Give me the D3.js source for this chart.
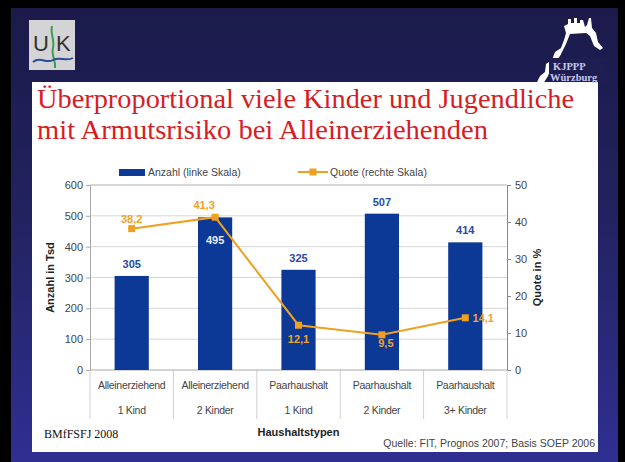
<!DOCTYPE html>
<html><head><meta charset="utf-8">
<script src="https://cdn.jsdelivr.net/npm/d3@7"></script>
<style>html,body{margin:0;padding:0;background:#000;}svg{display:block;}</style>
</head><body>
<script>
const categoryLine1 = ["Alleinerziehend","Alleinerziehend","Paarhaushalt","Paarhaushalt","Paarhaushalt"];
const categoryLine2 = ["1 Kind","2 Kinder","1 Kind","2 Kinder","3+ Kinder"];
const anzahl = [305, 495, 325, 507, 414];
const quote = [38.2, 41.3, 12.1, 9.5, 14.1];
const leftTicks = [0, 100, 200, 300, 400, 500, 600];
const rightTicks = [0, 10, 20, 30, 40, 50];
const titleLines = ["Überproportional viele Kinder und Jugendliche", "mit Armutsrisiko bei Alleinerziehenden"];

(function(){
const W = 625, H = 462;
const svg = d3.select("body").append("svg").attr("width", W).attr("height", H);
const defs = svg.append("defs");
const grad = defs.append("linearGradient").attr("id","bg").attr("x1",0).attr("y1",0).attr("x2",0).attr("y2",1);
grad.append("stop").attr("offset","0%").attr("stop-color","#1b1a4a");
grad.append("stop").attr("offset","45%").attr("stop-color","#222260");
grad.append("stop").attr("offset","100%").attr("stop-color","#2f2f92");

svg.append("rect").attr("width",W).attr("height",H).attr("fill","#000");
svg.append("rect").attr("x",11).attr("y",8).attr("width",607).attr("height",H-8).attr("fill","url(#bg)");

// UK logo
const lg = svg.append("g");
lg.append("rect").attr("x",29).attr("y",20).attr("width",46).attr("height",50).attr("fill","#d4d4d6");
lg.append("text").attr("x",33).attr("y",51).attr("font-family","Liberation Sans, Arial, sans-serif").attr("font-size",22).attr("fill","#333").text("U");
lg.append("text").attr("x",56).attr("y",51).attr("font-family","Liberation Sans, Arial, sans-serif").attr("font-size",22).attr("fill","#333").text("K");
lg.append("path").attr("d","M52,26 C50,34 55,40 53,48 C51,56 56,60 55,68").attr("fill","none").attr("stroke","#3aa04a").attr("stroke-width",2);
lg.append("path").attr("d","M33,62 C40,56 46,64 53,60 C60,56 66,62 73,58").attr("fill","none").attr("stroke","#2a4a9a").attr("stroke-width",2);

// KJPPP logo
svg.append("path").attr("d","M537,82 L540,76 L545,72 L546,64 L552,60 L555,52 L561,48 L564,40 L566,33 L564,26 L568,24 L568,19 L571,19 L571,23 L574,23 L574,18 L577,18 L577,23 L580,23 L580,20 L583,20 L585,27 L587,25 L589,18 L591,18 L592,28 L596,33 L598,42 L603,48 L600,50 L594,46 L590,36 L586,33 L570,34 L566,44 L560,56 L552,66 L548,76 L543,84 Z")
  .attr("fill","#fff");

// white content area
svg.append("rect").attr("x",32).attr("y",82).attr("width",566).attr("height",370).attr("fill","#fff");
svg.append("rect").attr("x",549).attr("y",58).attr("width",58).attr("height",24).attr("fill","#1f1e52");
const serif = "Liberation Serif, Times New Roman, serif";
svg.append("text").attr("x",553).attr("y",70).attr("font-family",serif).attr("font-weight","bold").attr("font-size",10.5).attr("fill","#c8c8f0").text("KJPPP");
svg.append("text").attr("x",550).attr("y",81).attr("font-family",serif).attr("font-weight","bold").attr("font-size",10.5).attr("fill","#c8c8f0").text("Würzburg");

// Title
const tl = [ {y:108, w:537}, {y:139, w:451} ];
titleLines.forEach((t,i)=>{
  svg.append("text").attr("x",37).attr("y",tl[i].y)
    .attr("font-family",serif).attr("font-size",28)
    .attr("fill","#d81c24").attr("textLength",tl[i].w).attr("lengthAdjust","spacingAndGlyphs").text(t);
});

// Chart
const pLeft = 90, pRight = 507, pTop = 185, pBottom = 370;
const x = d3.scaleBand().domain(d3.range(anzahl.length)).range([pLeft,pRight]).padding(0);
const yL = d3.scaleLinear().domain([0,600]).range([pBottom,pTop]);
const yR = d3.scaleLinear().domain([0,50]).range([pBottom,pTop]);
const barW = x.bandwidth()*0.41;
const font = "Liberation Sans, Arial, Helvetica, sans-serif";

// gridlines
svg.append("g").selectAll("line").data(leftTicks.filter(d=>d>0)).join("line")
  .attr("x1",pLeft).attr("x2",pRight).attr("y1",d=>yL(d)).attr("y2",d=>yL(d))
  .attr("stroke",d=>d===600?"#b0b0b0":"#d6d6d6").attr("stroke-width",1);

// axes
const gL = svg.append("g").attr("transform",`translate(${pLeft},0)`)
  .call(d3.axisLeft(yL).tickValues(leftTicks).tickSize(4).tickPadding(3));
gL.selectAll("path,line").attr("stroke","#a8a8a8");
gL.selectAll("text").attr("font-family",font).attr("font-size",11).attr("fill","#444");
const gR = svg.append("g").attr("transform",`translate(${pRight},0)`)
  .call(d3.axisRight(yR).tickValues(rightTicks).tickSize(4).tickPadding(4));
gR.selectAll("path,line").attr("stroke","#888");
gR.selectAll("text").attr("font-family",font).attr("font-size",11).attr("fill","#444");

// category separators
svg.append("g").selectAll("line").data(d3.range(anzahl.length+1)).join("line")
  .attr("x1",d=>pLeft+d*x.step()).attr("x2",d=>pLeft+d*x.step())
  .attr("y1",pBottom).attr("y2",419).attr("stroke","#d0d0d0");
svg.append("line").attr("x1",pLeft).attr("x2",pRight).attr("y1",pBottom).attr("y2",pBottom).attr("stroke","#a8a8a8");

// bars
svg.append("g").selectAll("rect").data(anzahl).join("rect")
  .attr("x",(d,i)=>x(i)+x.bandwidth()/2-barW/2).attr("width",barW)
  .attr("y",d=>yL(d)).attr("height",d=>pBottom-yL(d)).attr("fill","#0c3896");

// bar labels
const barLabelInside = [false,true,false,false,false];
svg.append("g").selectAll("text").data(anzahl).join("text")
  .attr("x",(d,i)=>x(i)+x.bandwidth()/2)
  .attr("y",(d,i)=>barLabelInside[i]? yL(d)+27 : yL(d)-8)
  .attr("text-anchor","middle").attr("font-family",font).attr("font-weight","bold").attr("font-size",11)
  .attr("fill",(d,i)=>barLabelInside[i]?"#e8eeff":"#2a4aa6").text(d=>d);

// line
const cx = i => x(i)+x.bandwidth()/2;
svg.append("path").datum(quote)
  .attr("d",d3.line().x((d,i)=>cx(i)).y(d=>yR(d)))
  .attr("fill","none").attr("stroke","#f0a020").attr("stroke-width",2);
svg.append("g").selectAll("rect").data(quote).join("rect")
  .attr("x",(d,i)=>cx(i)-3.5).attr("y",d=>yR(d)-3.5).attr("width",7).attr("height",7).attr("fill","#f0a020");

const qOff = [[0,-6],[-11,-8],[0,18],[4,12],[18,4]];
svg.append("g").selectAll("text").data(quote).join("text")
  .attr("x",(d,i)=>cx(i)+qOff[i][0]).attr("y",(d,i)=>yR(d)+qOff[i][1])
  .attr("text-anchor","middle").attr("font-family",font).attr("font-weight","bold").attr("font-size",11)
  .attr("fill","#f2a22a").text(d=>d3.format(".1f")(d).replace(".",","));

// category labels
svg.append("g").selectAll("text").data(categoryLine1).join("text")
  .attr("x",(d,i)=>cx(i)).attr("y",389).attr("text-anchor","middle")
  .attr("font-family",font).attr("font-size",10.5).attr("fill","#444").attr("letter-spacing","-0.3").text(d=>d);
svg.append("g").selectAll("text").data(categoryLine2).join("text")
  .attr("x",(d,i)=>cx(i)).attr("y",414).attr("text-anchor","middle")
  .attr("font-family",font).attr("font-size",10.5).attr("fill","#444").attr("letter-spacing","-0.3").text(d=>d);

// axis titles
svg.append("text").attr("transform",`translate(54,${(pTop+pBottom)/2}) rotate(-90)`)
  .attr("text-anchor","middle").attr("font-family",font).attr("font-weight","bold").attr("font-size",11).attr("fill","#222").text("Anzahl in Tsd");
svg.append("text").attr("transform",`translate(541,${(pTop+pBottom)/2}) rotate(-90)`)
  .attr("text-anchor","middle").attr("font-family",font).attr("font-weight","bold").attr("font-size",11).attr("fill","#222").text("Quote in %");
svg.append("text").attr("x",(pLeft+pRight)/2).attr("y",436).attr("text-anchor","middle")
  .attr("font-family",font).attr("font-weight","bold").attr("font-size",11).attr("fill","#222").text("Haushaltstypen");

// legend
svg.append("rect").attr("x",119).attr("y",169).attr("width",26).attr("height",7).attr("fill","#0c3896");
svg.append("text").attr("x",148).attr("y",176).attr("font-family",font).attr("font-size",10.5).attr("fill","#444").text("Anzahl (linke Skala)");
svg.append("line").attr("x1",298).attr("x2",328).attr("y1",172).attr("y2",172).attr("stroke","#f0a020").attr("stroke-width",2);
svg.append("rect").attr("x",309.5).attr("y",168.5).attr("width",7).attr("height",7).attr("fill","#f0a020");
svg.append("text").attr("x",330).attr("y",176).attr("font-family",font).attr("font-size",10.5).attr("fill","#444").text("Quote (rechte Skala)");

// footers
svg.append("text").attr("x",44).attr("y",438).attr("font-family",serif).attr("font-size",12).attr("fill","#111").text("BMfFSFJ 2008");
svg.append("text").attr("x",595).attr("y",447).attr("text-anchor","end").attr("font-family",font).attr("font-size",10.5).attr("fill","#444").text("Quelle: FIT, Prognos 2007; Basis SOEP 2006");
})();
</script>
</body></html>
